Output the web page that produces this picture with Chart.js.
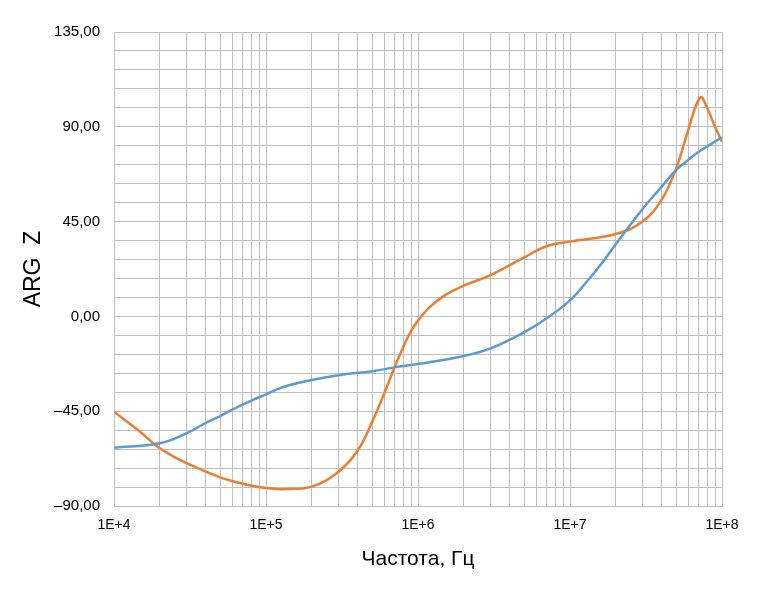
<!DOCTYPE html>
<html>
<head>
<meta charset="utf-8">
<script src="https://cdn.jsdelivr.net/npm/chart.js@4/dist/chart.umd.min.js"></script>
<style>
html,body{margin:0;padding:0;background:#fff;}
#wrap{width:776px;height:594px;}
</style>
</head>
<body>
<div id="wrap"><canvas id="c" width="776" height="594"></canvas></div>
<script>
const freqBlue = [1e4, 2e4, 3e4, 4e4, 5e4, 6e4, 8e4, 1e5, 1.3e5, 2e5, 3e5, 5e5, 7e5, 1e6, 2e6, 3e6, 5e6, 7e6, 1e7, 1.3e7, 1.6e7, 2e7, 3e7, 4e7, 5e7, 6e7, 7e7, 1e8];
const argBlue  = [-62.3, -60.2, -55.5, -50.6, -47.3, -44.2, -40.0, -37.0, -33.5, -30.2, -27.9, -26.0, -24.2, -22.6, -18.8, -15.2, -7.5, -1.0, 7.6, 16.8, 24.8, 34.3, 51.0, 61.5, 69.5, 74.3, 78.0, 85.0];

const freqOrange = [1e4, 1.5e4, 2e4, 3e4, 5e4, 7e4, 1e5, 1.3e5, 2e5, 3e5, 4e5, 5e5, 6e5, 7e5, 8e5, 9e5, 1e6, 1.2e6, 1.5e6, 2e6, 3e6, 5e6, 7e6, 1e7, 2e7, 3e7, 4e7, 5e7, 6e7, 7.2e7, 8e7, 9e7, 1e8];
const argOrange  = [-45.2, -55.0, -62.6, -69.7, -76.4, -79.4, -81.5, -82.0, -80.8, -73.7, -63.8, -50.0, -36.5, -24.2, -14.5, -7.0, -2.0, 4.5, 10.0, 14.6, 19.6, 28.0, 33.3, 35.5, 39.1, 45.0, 55.3, 70.3, 88.5, 104.0, 98.8, 90.0, 82.9];

const xDecadeLabels = {1e4: '1E+4', 1e5: '1E+5', 1e6: '1E+6', 1e7: '1E+7', 1e8: '1E+8'};
const yMajorStep = 45;
const yMinorStep = 9;
const yMin = -90, yMax = 135;
const xMin = 1e4, xMax = 1e8;

function pts(xs, ys) { return xs.map((x, i) => ({x: x, y: ys[i]})); }
function fmtY(v) {
  const s = Math.abs(v).toFixed(2).replace('.', ',');
  return v < 0 ? '\u2013' + s : s;
}

const gridColor = '#BFBFBF';

new Chart(document.getElementById('c'), {
  type: 'line',
  data: {
    datasets: [
      {
        label: 'blue',
        data: pts(freqBlue, argBlue),
        borderColor: '#5B9BD5',
        borderWidth: 2.5,
        pointRadius: 0,
        fill: false,
        tension: 0.4
      },
      {
        label: 'orange',
        data: pts(freqOrange, argOrange),
        borderColor: '#ED7D31',
        borderWidth: 2.5,
        pointRadius: 0,
        fill: false,
        tension: 0.4
      }
    ]
  },
  options: {
    responsive: false,
    animation: false,
    devicePixelRatio: 1,
    layout: { padding: { left: 0, top: 32, right: 54, bottom: 0 } },
    plugins: { legend: { display: false }, tooltip: { enabled: false } },
    scales: {
      x: {
        type: 'logarithmic',
        min: xMin, max: xMax,
        afterBuildTicks: (scale) => {
          const t = [];
          for (let e = 4; e < 8; e++) {
            for (let m = 1; m <= 9; m++) t.push({ value: m * Math.pow(10, e) });
          }
          t.push({ value: 1e8 });
          scale.ticks = t;
        },
        afterFit: (scale) => { scale.height = 88; },
        grid: { color: gridColor, lineWidth: 1, drawTicks: false },
        border: { color: gridColor, width: 1 },
        ticks: {
          autoSkip: false,
          maxRotation: 0,
          padding: 11,
          color: '#000',
          font: { family: 'Liberation Sans, Arial, sans-serif', size: 14 },
          callback: (v) => xDecadeLabels[v] || ''
        },
        title: {
          display: true,
          text: 'Частота, Гц',
          color: '#000',
          font: { family: 'Liberation Sans, Arial, sans-serif', size: 21 },
          padding: { top: 0, bottom: 22 }
        }
      },
      y: {
        type: 'linear',
        min: yMin, max: yMax,
        afterFit: (scale) => { scale.width = 114; },
        grid: { color: gridColor, lineWidth: 1, drawTicks: false },
        border: { color: gridColor, width: 1 },
        ticks: {
          stepSize: yMinorStep,
          autoSkip: false,
          padding: 14,
          color: '#000',
          font: { family: 'Liberation Sans, Arial, sans-serif', size: 15 },
          callback: (v) => (Math.round(v) % yMajorStep === 0 ? fmtY(v) : '')
        },
        title: {
          display: true,
          text: 'ARG  Z',
          color: '#000',
          font: { family: 'Liberation Sans, Arial, sans-serif', size: 23 },
          padding: { top: 20, bottom: 0 }
        }
      }
    }
  }
});
</script>
</body>
</html>
